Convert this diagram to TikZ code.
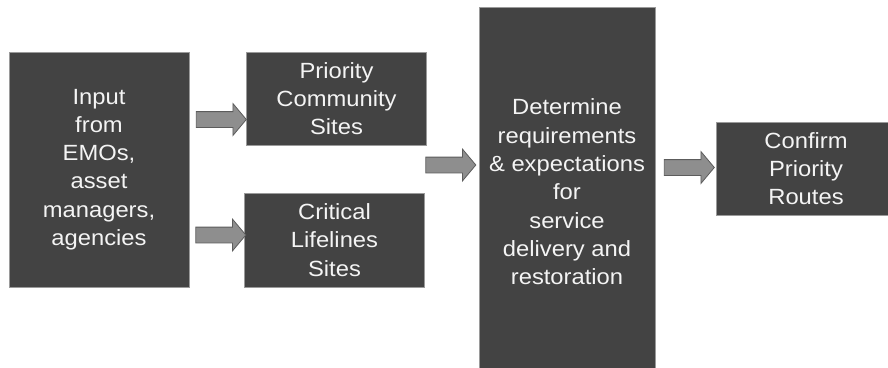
\documentclass[tikz,border=0pt]{standalone}
\usepackage{fontspec}
\setmainfont{Liberation Sans}[FakeStretch=1.08]
\usetikzlibrary{shapes.arrows}
\definecolor{boxfill}{HTML}{434343}
\definecolor{boxline}{HTML}{9A9A9A}
\definecolor{boxtext}{HTML}{F4F4F4}
\definecolor{arrfill}{HTML}{8E8E8E}
\definecolor{arrline}{HTML}{5C5C5C}
\tikzset{
	blk/.style={rectangle, fill=boxfill, draw=boxline, line width=0.8pt, text=boxtext, align=center, inner sep=0pt,
		font=\fontsize{22}{28.3}\selectfont},
	barrow/.style={single arrow, fill=arrfill, draw=arrline, line width=0.8pt, inner xsep=0pt, inner ysep=7.5pt,
		single arrow head extend=8pt, single arrow tip angle=100, minimum height=50pt}
}
\begin{document}
\begin{tikzpicture}[x=1pt, y=-1pt]
					\useasboundingbox (0,0) rectangle (888,367);
					
					\node[blk, minimum width=180pt, minimum height=235pt] (input) at (99.0, 169.5) {Input\\from\\EMOs,\\asset\\managers,\\agencies};
					\node[blk, minimum width=180pt, minimum height=93pt] (prio) at (336.5, 98.5) {Priority\\Community\\Sites};
					\node[blk, minimum width=180pt, minimum height=94pt] (crit) at (334.5, 240.0) {Critical\\Lifelines\\Sites};
					\node[blk, minimum width=176pt, minimum height=370pt] (determ) at (567.0, 192.0) {Determine\\requirements\\\& expectations\\for\\service\\delivery and\\restoration};
					\node[blk, minimum width=180pt, minimum height=93pt] (confirm) at (806.0, 168.5) {Confirm\\Priority\\Routes};
					
					\node[barrow] (arrprio) at (218.0, 119.5) {};
					\node[barrow] (arrcrit) at (217.5, 235.0) {};
					\node[barrow] (arrdeterm) at (447.5, 165.0) {};
					\node[barrow] (arrconfirm) at (686.0, 167.5) {};
				\end{tikzpicture}
\end{document}
